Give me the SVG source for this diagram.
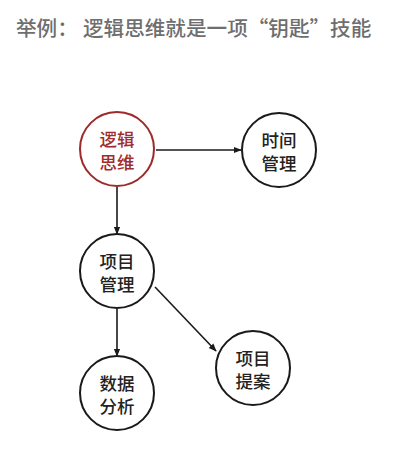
<svg xmlns="http://www.w3.org/2000/svg" width="400" height="452" viewBox="0 0 400 452">
<style>
.t{font-family:"Noto Sans CJK SC","Noto Sans",sans-serif;}
.title{font-size:20.6px;fill:#6e6e6e;font-weight:500;}
.lbl{font-size:17.5px;fill:#222;text-anchor:middle;font-weight:500;}
.red{fill:#a12c2c;}
.c{fill:#fff;stroke:#1a1a1a;stroke-width:2;}
.cr{fill:#fff;stroke:#9e2a2a;stroke-width:2;}
.e{stroke:#1a1a1a;stroke-width:1.6;fill:none;marker-end:url(#ah);}
</style>
<defs>
<marker id="ah" viewBox="0 0 10 10" refX="9" refY="5" markerWidth="5" markerHeight="5" orient="auto" markerUnits="strokeWidth">
<path d="M0,1 L10,5 L0,9 z" fill="#1a1a1a"/>
</marker>
</defs>
<rect width="400" height="452" fill="#fff"/>
<text class="t title" x="16" y="36">举例：</text>
<text class="t title" x="83" y="36">逻辑思维就是一项“钥匙”技能</text>
<g id="connectors">
<line class="e" x1="156" y1="150" x2="241" y2="150"/>
<line class="e" x1="117" y1="187" x2="117" y2="234"/>
<line class="e" x1="155" y1="287" x2="216" y2="351"/>
<line class="e" x1="117" y1="309" x2="117" y2="356"/>
</g>
<g id="n-luoji">
<circle class="cr" cx="117" cy="149" r="37"/>
<text class="t lbl red" x="117" y="145.5">逻辑<tspan x="117" y="168.5">思维</tspan></text>
</g>
<g id="n-shijian">
<circle class="c" cx="279" cy="150" r="37"/>
<text class="t lbl" x="279" y="146.5">时间<tspan x="279" y="169.5">管理</tspan></text>
</g>
<g id="n-xiangmu">
<circle class="c" cx="117" cy="271" r="37"/>
<text class="t lbl" x="117" y="267.5">项目<tspan x="117" y="290.5">管理</tspan></text>
</g>
<g id="n-tian">
<circle class="c" cx="253" cy="368" r="37"/>
<text class="t lbl" x="253" y="364.5">项目<tspan x="253" y="387.5">提案</tspan></text>
</g>
<g id="n-shuju">
<circle class="c" cx="117" cy="393" r="37"/>
<text class="t lbl" x="117" y="389.5">数据<tspan x="117" y="412.5">分析</tspan></text>
</g>
</svg>
